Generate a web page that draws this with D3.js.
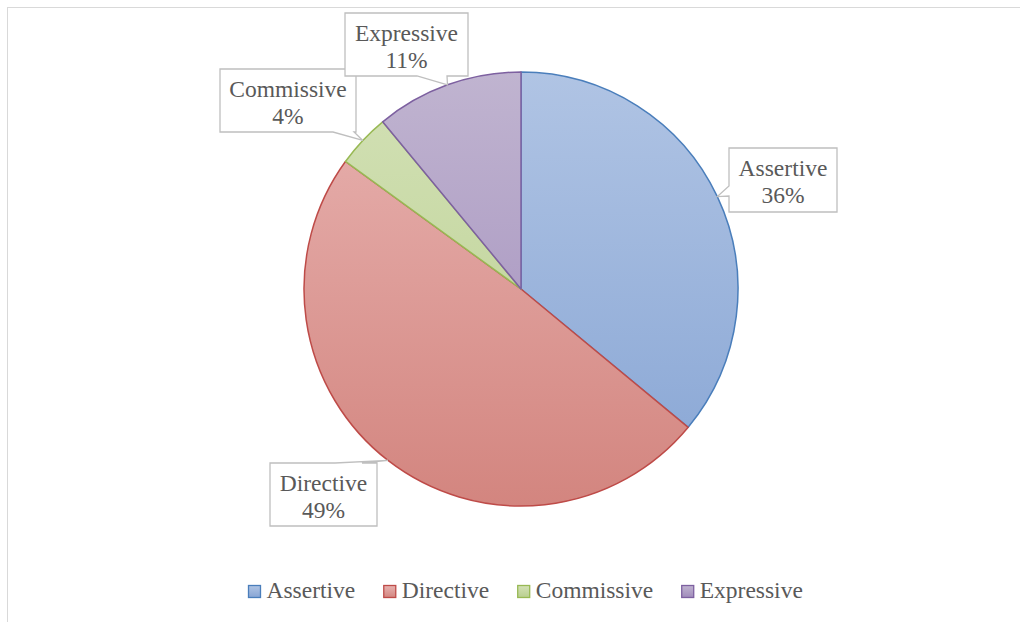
<!DOCTYPE html>
<html>
<head>
<meta charset="utf-8">
<script src="https://cdn.jsdelivr.net/npm/d3@7"></script>
<style>
  body { margin: 0; background: #fff; }
  svg text { font-family: "Liberation Serif", "DejaVu Serif", serif; fill: #595959; }
</style>
</head>
<body>
<div id="chart"></div>
<script>
// chart data
var categories = ["Assertive", "Directive", "Commissive", "Expressive"];
var values = [36, 49, 4, 11];
var pctLabels = ["36%", "49%", "4%", "11%"];

// colours: gradient top, gradient bottom, outline
var topColors = ["#b0c4e4", "#e8b3b1", "#d3e1b6", "#c0b4d0"];
var bottomColors = ["#87a5d4", "#d3857f", "#b9cf8f", "#a08bbb"];
var strokeColors = ["#4a7ebb", "#be4b48", "#98b954", "#7d60a0"];

var width = 1020, height = 622;
var cx = 521, cy = 289, radius = 217;

// callout box layout: box x, y, w, h, side of pointer, pointer base (two coords along that side)
var callouts = [
    {x: 729, y: 148, w: 108, h: 64, side: "left", b0: 186, b1: 196},
    {x: 270, y: 463, w: 107, h: 63, side: "top", b0: 335, b1: 362},
    {x: 220, y: 69, w: 136, h: 63, side: "bottom", b0: 333, b1: 354},
    {x: 345, y: 13, w: 123, h: 63, side: "bottom", b0: 417, b1: 447}
];

var svg = d3.select("#chart").append("svg")
    .attr("width", width)
    .attr("height", height);

// chart frame
svg.append("rect")
    .attr("x", 7.5).attr("y", 7.5)
    .attr("width", width + 10).attr("height", height + 10)
    .attr("fill", "#fff")
    .attr("stroke", "#d9d9d9")
    .attr("stroke-width", 1);

// gradients (slice ones are in the pie group's coordinates, centred on 0,0)
var defs = svg.append("defs");
categories.forEach(function(c, i) {
    var g = defs.append("linearGradient")
        .attr("id", "grad" + i)
        .attr("gradientUnits", "userSpaceOnUse")
        .attr("x1", 0).attr("y1", -radius)
        .attr("x2", 0).attr("y2", radius);
    g.append("stop").attr("offset", "0%").attr("stop-color", topColors[i]);
    g.append("stop").attr("offset", "100%").attr("stop-color", bottomColors[i]);
    var lg = defs.append("linearGradient")
        .attr("id", "lgrad" + i)
        .attr("x1", 0).attr("y1", 0).attr("x2", 0).attr("y2", 1);
    lg.append("stop").attr("offset", "0%").attr("stop-color", topColors[i]);
    lg.append("stop").attr("offset", "100%").attr("stop-color", bottomColors[i]);
});

var pie = d3.pie().sort(null).value(function(d) { return d; });
var arcs = pie(values);
var arc = d3.arc().innerRadius(0).outerRadius(radius);

var g = svg.append("g")
    .attr("transform", "translate(" + cx + "," + cy + ")");

g.selectAll(".slice")
    .data(arcs)
    .enter().append("path")
    .attr("class", "slice")
    .attr("d", arc)
    .attr("fill", function(d, i) { return "url(#grad" + i + ")"; })
    .attr("stroke", function(d, i) { return strokeColors[i]; })
    .attr("stroke-width", 1.5)
    .attr("stroke-linejoin", "round");

// callout labels
arcs.forEach(function(d, i) {
    var c = callouts[i];
    var mid = (d.startAngle + d.endAngle) / 2;
    var tx = cx + radius * Math.sin(mid);
    var ty = cy - radius * Math.cos(mid);
    var x0 = c.x, y0 = c.y, x1 = c.x + c.w, y1 = c.y + c.h;
    var p = [];
    p.push([x0, y0]);
    if (c.side === "top") { p.push([c.b0, y0], [tx, ty], [c.b1, y0]); }
    p.push([x1, y0]);
    p.push([x1, y1]);
    if (c.side === "bottom") { p.push([c.b1, y1], [tx, ty], [c.b0, y1]); }
    p.push([x0, y1]);
    if (c.side === "left") { p.push([x0, c.b1], [tx, ty], [x0, c.b0]); }
    svg.append("path")
        .attr("d", d3.line()(p) + "Z")
        .attr("fill", "#fff")
        .attr("stroke", "#bfbfbf")
        .attr("stroke-width", 1.3);
    svg.append("text")
        .attr("x", x0 + c.w / 2)
        .attr("y", y0 + 28)
        .attr("text-anchor", "middle")
        .style("font-size", "23.5px")
        .text(categories[i]);
    svg.append("text")
        .attr("x", x0 + c.w / 2)
        .attr("y", y0 + 55)
        .attr("text-anchor", "middle")
        .style("font-size", "23.5px")
        .text(pctLabels[i]);
});

// legend - items laid out left to right, 28px gap after each label
var legend = svg.append("g").attr("transform", "translate(248,585)");
var lx = 0;
categories.forEach(function(c, i) {
    var item = legend.append("g").attr("transform", "translate(" + lx + ",0)");
    item.append("rect")
        .attr("x", 0.5).attr("y", 0.5)
        .attr("width", 12).attr("height", 12)
        .attr("fill", "url(#lgrad" + i + ")")
        .attr("stroke", strokeColors[i])
        .attr("stroke-width", 1.3);
    var t = item.append("text")
        .attr("x", 18.5)
        .attr("y", 13)
        .style("font-size", "23.5px")
        .text(c);
    lx += 18.5 + t.node().getComputedTextLength() + 28;
});
</script>
</body>
</html>
